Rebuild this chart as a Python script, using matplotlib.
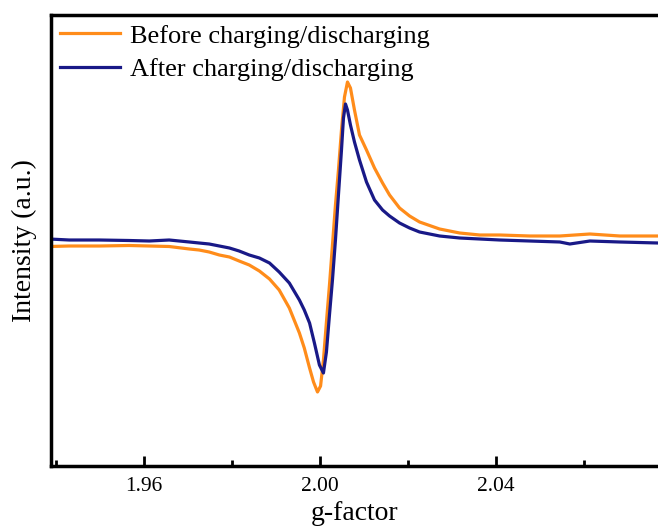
import matplotlib
matplotlib.use("Agg")
import matplotlib.pyplot as plt

# ---- data (g-factor, intensity in a.u.) ----
g_before = [1.9384, 1.9430, 1.9498, 1.9566, 1.9612, 1.9657, 1.9703, 1.9725, 1.9748, 1.9771,
            1.9794, 1.9816, 1.9839, 1.9862, 1.9885, 1.9907, 1.9930, 1.99529, 1.9964, 1.9976,
            1.9985, 1.9994, 2.0001, 2.00075, 2.00143, 2.00212, 2.0028, 2.00348, 2.00416, 2.00485,
            2.00553, 2.00621, 2.00689, 2.0078, 2.00894, 2.01053, 2.01235, 2.01418, 2.01577, 2.01804,
            2.02032, 2.02259, 2.02714, 2.03170, 2.03625, 2.04080, 2.04762, 2.05445, 2.06127, 2.06810,
            2.07675]
i_before = [219.5, 220, 220, 220.5, 220, 219.5, 217, 216, 214, 211,
            209, 205, 201, 195, 187, 176, 158, 133, 118, 98,
            84, 74, 80, 106, 144, 181, 221, 261, 296, 336,
            369, 384, 378, 356, 331, 316, 298, 283, 271, 258,
            250, 244, 237, 233, 231, 231, 230, 230, 232, 230,
            230]

g_after = [1.9384, 1.9430, 1.9498, 1.9566, 1.9612, 1.9657, 1.9703, 1.9725, 1.9748, 1.9771,
           1.9794, 1.9816, 1.9839, 1.9862, 1.9885, 1.9907, 1.9930, 1.99529, 1.9964, 1.9976,
           1.99870, 1.99984, 2.00075, 2.00143, 2.00212, 2.0028, 2.00348, 2.00416, 2.00485, 2.00530,
           2.00576, 2.00621, 2.00689, 2.0078, 2.00894, 2.01053, 2.01235, 2.01418, 2.01577, 2.01804,
           2.02032, 2.02259, 2.02714, 2.03170, 2.03625, 2.04080, 2.04762, 2.05445, 2.05672, 2.06127,
           2.06810, 2.07675]
i_after = [227, 226, 226, 225.5, 225, 226, 224, 223, 222, 220,
           218, 215, 211, 208, 203, 194, 183, 166, 156, 143,
           123, 101, 93, 114, 151, 186, 226, 271, 316, 348,
           362, 356, 341, 324, 306, 284, 266, 256, 250, 243,
           238, 234, 230, 228, 227, 226, 225, 224, 222, 225,
           224, 223]

labels = ["Before charging/discharging", "After charging/discharging"]
colors = ["#FF8C1A", "#191987"]
xticks_major = [1.96, 2.00, 2.04]
xticks_minor = [1.94, 1.98, 2.02, 2.06]

plt.rcParams['font.family'] = ['Liberation Serif', 'DejaVu Serif']

fig = plt.figure(figsize=(6.58, 5.26), dpi=100)
ax = fig.add_axes([50.5 / 658, 60 / 526, 1 - 50.5 / 658, (466 - 15) / 526])

ax.plot(g_before, i_before, color=colors[0], lw=2.3, label=labels[0], solid_joinstyle='round')
ax.plot(g_after, i_after, color=colors[1], lw=2.3, label=labels[1], solid_joinstyle='round')

ax.set_xlim(1.93875, 2.07675)
ax.set_ylim(0, 451)
ax.set_xticks(xticks_major)
ax.set_xticklabels([f"{t:.2f}" for t in xticks_major])
ax.set_xticks(xticks_minor, minor=True)
ax.set_yticks([])
ax.tick_params(axis='x', which='major', direction='in', length=7, width=2, labelsize=15.5, pad=8)
ax.tick_params(axis='x', which='minor', direction='in', length=4, width=2)

for s in ['left', 'bottom', 'top']:
    ax.spines[s].set_linewidth(2.5)
ax.spines['right'].set_visible(False)

ax.set_xlabel("g-factor", fontsize=20, labelpad=3.5)
ax.set_ylabel("Intensity (a.u.)", fontsize=20, labelpad=10)

leg = ax.legend(loc='upper left', frameon=False, fontsize=19, handlelength=2.3,
                handletextpad=0.35, labelspacing=0.38, borderaxespad=0.3, borderpad=0.05)

fig.savefig("out.png", dpi=100)
